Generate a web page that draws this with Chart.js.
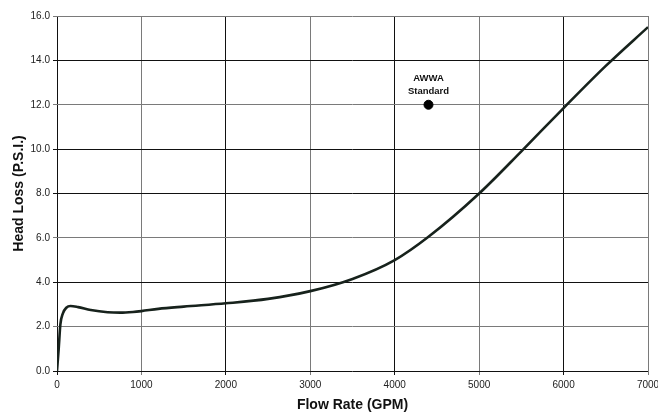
<!DOCTYPE html>
<html>
<head>
<meta charset="utf-8">
<script src="https://cdn.jsdelivr.net/npm/chart.js@4/dist/chart.umd.min.js"></script>
<style>
  html, body { margin: 0; padding: 0; background: #fff; }
  #wrap { width: 658px; height: 414px; }
</style>
</head>
<body>
<div id="wrap"><canvas id="chart"></canvas></div>
<script>
// head loss curve
const flowRate = [0, 20, 40, 70, 110, 160, 250, 400, 600, 750, 900, 1000, 1200, 1500, 2000, 2500, 3000, 3500, 4000, 4400, 5000, 5500, 6000, 6500, 7000];
const headLoss = [0, 1.0, 2.1, 2.6, 2.85, 2.93, 2.88, 2.75, 2.65, 2.63, 2.66, 2.7, 2.8, 2.9, 3.05, 3.25, 3.6, 4.15, 5.0, 6.05, 8.0, 9.9, 11.85, 13.75, 15.5];

// AWWA standard point
const awwaFlow = [4400];
const awwaLoss = [12.0];
const awwaLabel = ["AWWA", "Standard"];

const xTicks = [0, 1000, 2000, 3000, 4000, 5000, 6000, 7000];
const yTicks = [0, 2, 4, 6, 8, 10, 12, 14, 16];

// gridline shades alternate in the original
const xGridColors = ['#111', '#7a7a7a', '#111', '#7a7a7a', '#111', '#7a7a7a', '#111', '#7a7a7a'];
const yGridColors = ['#111', '#7a7a7a', '#111', '#7a7a7a', '#111', '#111', '#7a7a7a', '#111', '#7a7a7a'];

const awwaText = {
    id: 'awwaText',
    afterDatasetsDraw(chart) {
        const ctx = chart.ctx;
        const px = chart.scales.x.getPixelForValue(awwaFlow[0]);
        const py = chart.scales.y.getPixelForValue(awwaLoss[0]);
        ctx.save();
        ctx.fillStyle = '#111';
        ctx.font = 'bold 9.5px "Liberation Sans", Arial, sans-serif';
        ctx.textAlign = 'center';
        ctx.textBaseline = 'middle';
        ctx.fillText(awwaLabel[0], px, py - 26.5);
        ctx.fillText(awwaLabel[1], px, py - 13.5);
        ctx.restore();
    }
};

new Chart(document.getElementById('chart'), {
    type: 'line',
    data: {
        datasets: [{
            label: 'Head Loss',
            data: flowRate.map((f, i) => ({ x: f, y: headLoss[i] })),
            borderColor: '#17221c',
            borderWidth: 2.6,
            pointRadius: 0,
            cubicInterpolationMode: 'monotone',
            fill: false
        }, {
            label: 'AWWA Standard',
            type: 'scatter',
            data: awwaFlow.map((f, i) => ({ x: f, y: awwaLoss[i] })),
            backgroundColor: '#000',
            borderColor: '#000',
            pointRadius: 4.5
        }]
    },
    options: {
        responsive: true,
        maintainAspectRatio: false,
        animation: false,
        layout: { padding: { top: 16, right: 10, left: 0, bottom: 0 } },
        plugins: {
            legend: { display: false },
            tooltip: { enabled: false }
        },
        scales: {
            x: {
                type: 'linear',
                min: 0,
                max: 7000,
                afterBuildTicks: (scale) => { scale.ticks = xTicks.map(v => ({ value: v })); },
                afterFit: (scale) => {
                    scale.height = 43;
                    scale.paddingLeft = 0;
                    scale.paddingRight = 0;
                },
                grid: {
                    color: (c) => xGridColors[c.index] || '#7a7a7a',
                    lineWidth: 1,
                    tickLength: 4
                },
                border: { display: false },
                ticks: {
                    color: '#222',
                    font: { family: '"Liberation Sans", Arial, sans-serif', size: 10 },
                    padding: 4,
                    maxRotation: 0,
                    callback: (v) => String(v)
                },
                title: {
                    display: true,
                    text: 'Flow Rate (GPM)',
                    color: '#111',
                    font: { family: '"Liberation Sans Narrow", "Arial Narrow", "Liberation Sans", sans-serif', size: 14, weight: 'bold' },
                    padding: { top: 2, bottom: 0 }
                }
            },
            y: {
                min: 0,
                max: 16,
                afterBuildTicks: (scale) => { scale.ticks = yTicks.map(v => ({ value: v })); },
                afterFit: (scale) => { scale.width = 57; },
                grid: {
                    color: (c) => yGridColors[c.index] || '#7a7a7a',
                    lineWidth: 1,
                    tickLength: 4
                },
                border: { display: false },
                ticks: {
                    color: '#222',
                    font: { family: '"Liberation Sans", Arial, sans-serif', size: 10 },
                    padding: 3,
                    callback: (v) => v.toFixed(1)
                },
                title: {
                    display: true,
                    text: 'Head Loss (P.S.I.)',
                    color: '#111',
                    font: { family: '"Liberation Sans Narrow", "Arial Narrow", "Liberation Sans", sans-serif', size: 14, weight: 'bold' },
                    padding: { top: 11, bottom: 0 }
                }
            }
        }
    },
    plugins: [awwaText]
});
</script>
</body>
</html>
